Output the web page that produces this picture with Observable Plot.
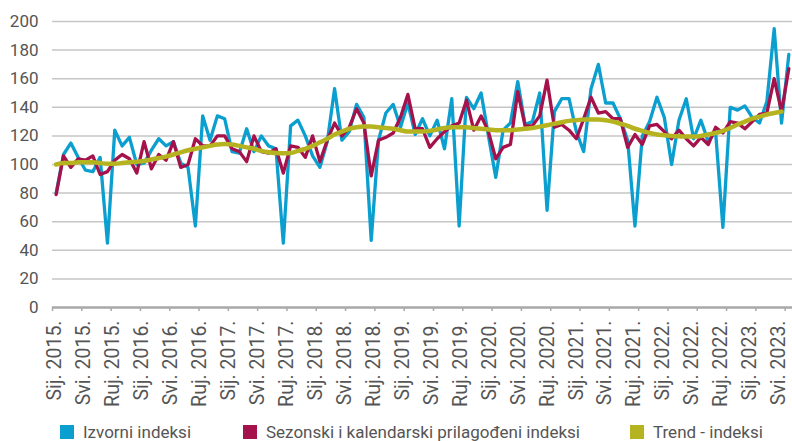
<!DOCTYPE html>
<html><head><meta charset="utf-8">
<script src="https://cdn.jsdelivr.net/npm/d3@7"></script>
<script src="https://cdn.jsdelivr.net/npm/@observablehq/plot@0.6"></script>
<style>
body{margin:0;background:#fff;font-family:Roboto,"Liberation Sans",sans-serif;}
#chart svg{display:block}
#legend{position:relative;width:792px;height:23px;}
.item{position:absolute;top:5px;display:flex;align-items:center;font-size:17px;line-height:18px;color:#555;white-space:nowrap}
.sw{width:14px;height:14px;margin-right:9px}
</style></head><body>
<div id="chart"></div>
<div id="legend"></div>
<script>
const monthNames = ["Sij","Velj","Ožu","Tra","Svi","Lip","Srp","Kol","Ruj","Lis","Stu","Pro"];
const startYear = 2015;
const izvorni = [80,107,115,105,96,95,105,45,124,113,119,100,101,110,118,113,116,101,98,57,
  134,117,134,132,109,108,125,109,120,113,111,45,127,131,120,106,98,116,153,117,
  123,142,133,47,117,136,142,126,143,121,132,120,131,111,146,57,147,139,150,120,
  91,124,129,158,128,130,150,68,137,146,146,123,109,153,170,143,143,132,117,57,
  120,130,147,133,100,131,146,118,131,116,123,56,140,138,141,133,129,144,195,129,177];
const sezonski = [79,106,98,104,103,106,93,95,103,107,104,94,116,97,107,103,116,98,100,118,
  113,113,120,120,111,109,102,120,109,108,111,94,113,112,105,120,102,117,129,120,
  126,139,129,92,117,119,122,133,149,125,125,112,118,123,127,129,145,124,134,123,
  104,112,114,151,127,127,134,159,126,128,124,118,132,147,136,137,132,132,112,121,
  114,127,128,123,118,124,118,113,119,114,126,122,130,129,125,130,135,136,160,137,167];
const trend = [100,101,101,101.5,101.5,101.5,101,100.5,100.5,101,101.5,102,102.5,103.5,104.5,105.5,107,108.5,110,111,
  112,113,114,114.4,114,113,112,111,109.5,108.5,108,107.8,108,109.5,111,113,115.5,118,121,123,
  125,126,126.5,126.5,126,125.5,125,124,123,123,123,123.5,124.5,125.5,126,126,126,125.5,125,124.5,
  124,124,124,124.5,125,125.5,126.5,127.5,128.5,129.5,130.5,131,131.5,131.5,131.5,131,130,128.5,127,125,
  123.5,122,121,120.5,120,119.7,119.5,119.5,120,121,122,123.5,125.5,128,130,132,133.5,135,136,137];
const yTicks = [0,20,40,60,80,100,120,140,160,180,200];
const labelStep = 4;
const seriesNames = ["Izvorni indeksi","Sezonski i kalendarski prilagođeni indeksi","Trend - indeksi"];
const seriesColors = ["#0a9fcf","#a5124b","#b5b320"];

const n = izvorni.length;
const labelIdx = d3.range(0, n, labelStep);
const boundIdx = labelIdx.map(i => i - 0.5);
const labelPos = labelIdx.map(i => i * 0.988 - 0.15);
const fmt = i => `${monthNames[i % 12]}. ${startYear + Math.floor(i / 12)}.`;
const rows = arr => arr.map((v, i) => ({i, v}));

const chart = Plot.plot({
  width: 792, height: 418,
  marginLeft: 52, marginRight: 0, marginTop: 21, marginBottom: 111,
  style: {fontFamily: "Roboto, 'Liberation Sans', sans-serif", background: "#fff"},
  x: {type: "linear", domain: [-0.5, n - 0.5], label: null},
  y: {domain: [0, 200], label: null},
  marks: [
    Plot.ruleY(yTicks.filter(d => d > 0), {stroke: "#c6c6c6", strokeWidth: 1.5}),
    Plot.axisY(yTicks, {tickSize: 0, tickPadding: 14, fontSize: 17, fill: "#555", tickFormat: d => d, label: null}),
    Plot.axisX(boundIdx, {tickSize: 4, stroke: "#a9a9a9", strokeWidth: 1.5, tickFormat: () => "", label: null}),
    Plot.text(labelIdx, {x: (d, k) => labelPos[k], text: fmt, frameAnchor: "bottom", rotate: -90, textAnchor: "end",
      dy: 13, fontSize: 19.5, fill: "#555", lineAnchor: "middle"}),
    Plot.ruleY([0], {stroke: "#a9a9a9", strokeWidth: 2.5}),
    Plot.line(rows(izvorni), {x: "i", y: "v", stroke: seriesColors[0], strokeWidth: 3.3}),
    Plot.line(rows(sezonski), {x: "i", y: "v", stroke: seriesColors[1], strokeWidth: 3.3}),
    Plot.line(rows(trend), {x: "i", y: "v", stroke: seriesColors[2], strokeWidth: 4.5, curve: "monotone-x"})
  ]
});
document.getElementById("chart").appendChild(chart);

const legendX = [60, 243, 630];
const legend = document.getElementById("legend");
seriesNames.forEach((name, k) => {
  const item = document.createElement("div");
  item.className = "item";
  item.style.left = legendX[k] + "px";
  const sw = document.createElement("div");
  sw.className = "sw";
  sw.style.background = seriesColors[k];
  const t = document.createElement("span");
  t.textContent = name;
  item.appendChild(sw); item.appendChild(t);
  legend.appendChild(item);
});
</script>
</body></html>
